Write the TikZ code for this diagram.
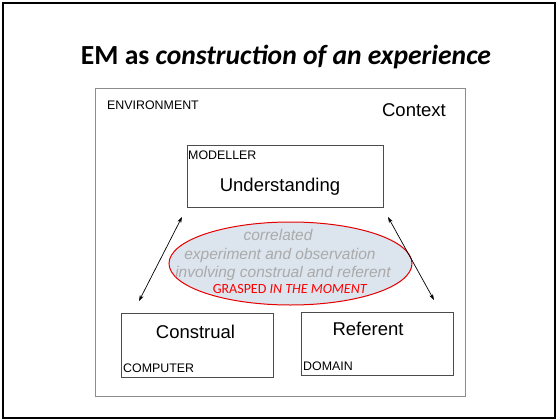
\documentclass[tikz,border=0pt]{standalone}
\usepackage{fontspec}
\setmainfont{Liberation Sans}
\newfontfamily\calibri{Carlito}
\usetikzlibrary{shapes.geometric,arrows.meta}
\definecolor{bubble}{HTML}{DCE4EE}
\definecolor{ghost}{HTML}{AAAAAA}
\begin{document}
\begin{tikzpicture}[x=1pt,y=-1pt,
  framebox/.style={draw=black!70,line width=0.9pt,inner sep=0pt},
  tag/.style={font=\fontsize{12.4}{14}\selectfont,inner sep=0pt},
  bigword/.style={font=\fontsize{18.5}{20}\selectfont,inner sep=0pt},
  ghosttext/.style={font=\fontsize{15.5}{18}\selectfont\itshape,text=ghost,inner sep=0pt},
  link/.style={{Stealth[length=6pt,width=4pt]}-{Stealth[length=6pt,width=4pt]},line width=0.7pt}]
\useasboundingbox (0,0) rectangle (557,420);
% slide frame
\draw[line width=2pt] (2.5,3) rectangle (555,418);
% title
\node[font=\calibri\fontsize{27.6}{30}\selectfont\bfseries,inner sep=0pt] (title) at (286,57)
  {EM as \textit{construction of an experience}};
% environment
\node[draw=black!45,line width=0.8pt,minimum width=370,minimum height=308,inner sep=0pt] (env) at (280,242) {};
\node[tag,anchor=west] (envlabel) at (107,105) {ENVIRONMENT};
\node[bigword] (context) at (414,110) {Context};
% modeller
\node[framebox,minimum width=196,minimum height=62] (modeller) at (285,176) {};
\node[tag,anchor=west] (modlabel) at (188,155) {MODELLER};
\node[bigword] (understanding) at (280,187) {Understanding};
% computer
\node[framebox,minimum width=152,minimum height=64] (computer) at (197,345) {};
\node[bigword] (construal) at (195.5,332) {Construal};
\node[tag,anchor=west] (complabel) at (123,368) {COMPUTER};
% domain
\node[framebox,minimum width=152,minimum height=63] (domain) at (377,343.5) {};
\node[bigword] (referent) at (368,329) {Referent};
\node[tag,anchor=west] (domlabel) at (303,366) {DOMAIN};
% experience
\node[ellipse,draw=red!90!black,line width=1pt,fill=bubble,minimum width=243,minimum height=83,inner sep=0pt] (moment) at (290.5,263.5) {};
\node[ghosttext] (l1) at (278,235) {correlated};
\node[ghosttext] (l2) at (280,255) {experiment and observation};
\node[ghosttext] (l3) at (283,273) {involving construal and referent};
\node[font=\calibri\fontsize{14}{16}\selectfont,text=red,inner sep=0pt] (grasp) at (290,289) {GRASPED \textit{IN THE MOMENT}};
% links
\coordinate (la) at (182,217);
\coordinate (lb) at (139,301);
\coordinate (ra) at (388,217);
\coordinate (rb) at (434,300);
\draw[link] (la) -- (lb);
\draw[link] (ra) -- (rb);
\end{tikzpicture}
\end{document}
